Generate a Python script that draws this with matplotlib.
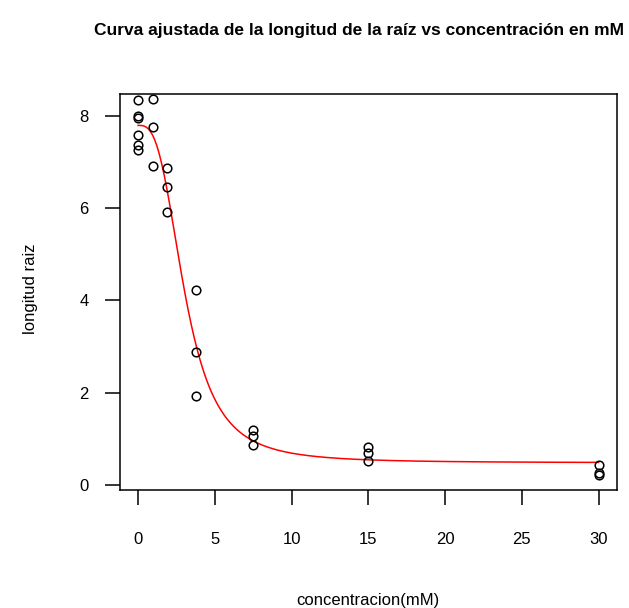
import numpy as np
import matplotlib
matplotlib.use("Agg")
import matplotlib.pyplot as plt

# data (root length vs concentration)
conc = [0, 0, 0, 0, 0, 0, 0.94, 0.94, 0.94, 1.88, 1.88, 1.88,
        3.75, 3.75, 3.75, 7.5, 7.5, 7.5, 15, 15, 15, 30, 30, 30]
rootl = [7.58, 8.00, 8.33, 7.25, 7.375, 7.96, 8.36, 6.91, 7.75, 6.87, 6.45, 5.92,
         1.925, 2.89, 4.23, 1.19, 0.86, 1.06, 0.69, 0.525, 0.825, 0.25, 0.22, 0.44]

# fitted log-logistic (4 parameters) model
b_par, c_par, d_par, e_par = 2.98, 0.48, 7.79, 3.06

xticks = [0, 5, 10, 15, 20, 25, 30]
yticks = [0, 2, 4, 6, 8]

plt.rcParams['font.family'] = ['Liberation Sans', 'DejaVu Sans']

fig = plt.figure(figsize=(6.29, 6.08), dpi=100)
ax = fig.add_axes([0.1903, 0.1941, 0.981 - 0.1903, 0.8454 - 0.1941])

xs = np.linspace(0, 30, 600)
ys = c_par + (d_par - c_par) / (1 + np.exp(b_par * (np.log(np.maximum(xs, 1e-12)) - np.log(e_par))))
ax.plot(xs, ys, color='red', lw=1.1)
ax.plot(conc, rootl, 'o', ms=6.2, mfc='none', mec='black', mew=1.1)

ax.set_xlim(-1.2, 31.2)
ax.set_ylim(-0.11, 8.47)
ax.set_xticks(xticks)
ax.set_yticks(yticks)
for s in ax.spines.values():
    s.set_linewidth(1.1)
ax.tick_params(axis='x', length=11, width=1.1, pad=19, labelsize=12)
ax.tick_params(axis='y', length=11, width=1.1, pad=11.5, labelsize=12)

fig.text(359 / 629, 1 - 31 / 608, 'Curva ajustada de la longitud de la raíz vs concentración en mM',
         ha='center', va='center', fontsize=12.5, fontweight='bold')
fig.text(0.5851, 1 - 601 / 608, 'concentracion(mM)', ha='center', va='center', fontsize=12)
fig.text(30 / 629, 1 - 289 / 608, 'longitud raiz', ha='center', va='center', rotation=90, fontsize=12)

fig.savefig('out.png', dpi=100)
